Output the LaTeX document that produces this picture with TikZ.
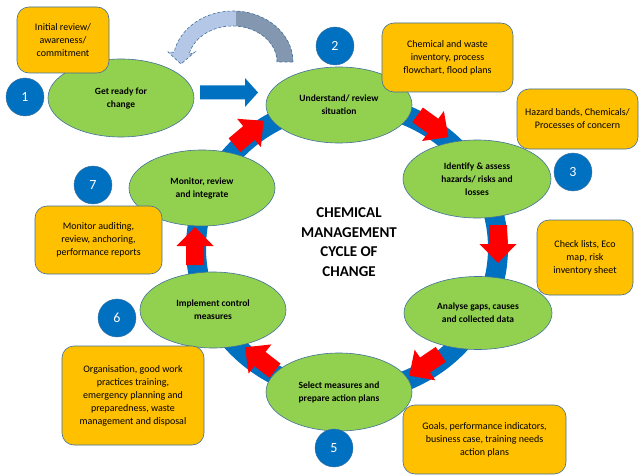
\documentclass[tikz,border=0pt]{standalone}
\usepackage{fontspec}
\setmainfont{Carlito}
\usetikzlibrary{shapes.geometric}
\definecolor{stagegreen}{HTML}{92D050}
\definecolor{edgeblue}{HTML}{41719C}
\definecolor{toolorange}{HTML}{FFC000}
\definecolor{ringblue}{HTML}{0070C0}
\definecolor{backlight}{HTML}{B4C7E7}
\definecolor{backdark}{HTML}{8497B0}
\tikzset{
  stage/.style={ellipse, draw=edgeblue, fill=stagegreen, line width=0.6pt,
    minimum width=146pt, minimum height=76pt, inner sep=0pt, align=center,
    font=\bfseries\fontsize{9.5}{13}\selectfont},
  tool/.style={rectangle, rounded corners=12pt, draw=edgeblue, fill=toolorange,
    line width=0.6pt, inner sep=0pt, align=center, font=\fontsize{10}{13}\selectfont},
  num/.style={circle, fill=ringblue, draw=edgeblue, line width=0.4pt, text=white,
    minimum size=38pt, inner sep=0pt, font=\fontsize{14}{14}\selectfont},
  turnarrow/.pic={\fill[red] (-19,-9) -- (0,-9) -- (0,-18.5) -- (19,0)
    -- (0,18.5) -- (0,9) -- (-19,9) -- cycle;},
  pusharrow/.pic={\fill[ringblue] (-29,-7) -- (16,-7) -- (16,-14.5) -- (29,0)
    -- (16,14.5) -- (16,7) -- (-29,7) -- cycle;},
}
\begin{document}
\begin{tikzpicture}[x=1pt,y=1pt]
\useasboundingbox (0,0) rectangle (640,475);
% the cycle ring
\draw[ringblue, line width=20pt] (347,227) ellipse [x radius=151, y radius=144];
% curved back arrow
\draw[edgeblue, densely dashed, line width=0.6pt, fill=backlight,
  path picture={\fill[backdark] (236,380) rectangle (300,475);}]
  (293,413) arc [start angle=0, end angle=169, x radius=60, y radius=51]
  -- (168,423) -- (181,411) -- (195,423) -- (189,420.5)
  arc [start angle=168, end angle=0, x radius=44.5, y radius=36] -- cycle;
% stages
\node[stage] (ready) at (121,377) [minimum width=146pt, minimum height=78pt] {Get ready for\\change};
\node[stage] (understand) at (339,370) {Understand/ review\\situation};
\node[stage] (identify) at (477,296) [minimum width=148pt, minimum height=78pt] {Identify \& assess\\hazards/ risks and\\losses};
\node[stage] (analyse) at (478,162) [minimum width=148pt, minimum height=73pt] {Analyse gaps, causes\\and collected data};
\node[stage] (select) at (339,83) [minimum height=78pt] {Select measures and\\prepare action plans};
\node[stage] (implement) at (213,165) {Implement control\\measures};
\node[stage] (monitor) at (202,287) {Monitor, review\\and integrate};
% arrows along the ring
\pic (go) at (229,382.5) {pusharrow};
\pic[rotate=40] (t72) at (249,342) {turnarrow};
\pic[rotate=-36] (t23) at (433,349) {turnarrow};
\pic[rotate=-90] (t34) at (498,231) {turnarrow};
\pic[rotate=-146] (t45) at (425,110) {turnarrow};
\pic[rotate=142] (t56) at (260,116) {turnarrow};
\pic[rotate=90] (t67) at (195,229) {turnarrow};
% step numbers
\node[num] (n1) at (25,378) {1};
\node[num] (n2) at (335,429) {2};
\node[num] (n3) at (573,303) {3};
\node[num] (n5) at (334,27) {5};
\node[num] (n6) at (117,157) {6};
\node[num] (n7) at (93,290) {7};
% tools per step
\node[tool, minimum width=92pt, minimum height=66pt] (review) at (63,435) {Initial review/\\awareness/\\commitment};
\node[tool, minimum width=131pt, minimum height=69pt] (inventory) at (447.5,417.5) {Chemical and waste\\inventory, process\\flowchart, flood plans};
\node[tool, minimum width=121pt, minimum height=60pt] (bands) at (577.5,356) {Hazard bands, Chemicals/\\Processes of concern};
\node[tool, minimum width=96pt, minimum height=75pt] (checks) at (585,217.5) {Check lists, Eco\\map, risk\\inventory sheet};
\node[tool, minimum width=163pt, minimum height=69pt] (goals) at (484.5,35.5) {Goals, performance indicators,\\business case, training needs\\action plans};
\node[tool, minimum width=142pt, minimum height=99pt] (practices) at (133,79.5) {Organisation, good work\\practices training,\\emergency planning and\\preparedness, waste\\management and disposal};
\node[tool, minimum width=127pt, minimum height=68pt] (auditing) at (98.5,235) {Monitor auditing,\\review, anchoring,\\performance reports};
% title
\node[align=center, font=\bfseries\fontsize{15}{19.5}\selectfont] (cycle) at (349,233) {CHEMICAL\\MANAGEMENT\\CYCLE OF\\CHANGE};
\end{tikzpicture}
\end{document}
